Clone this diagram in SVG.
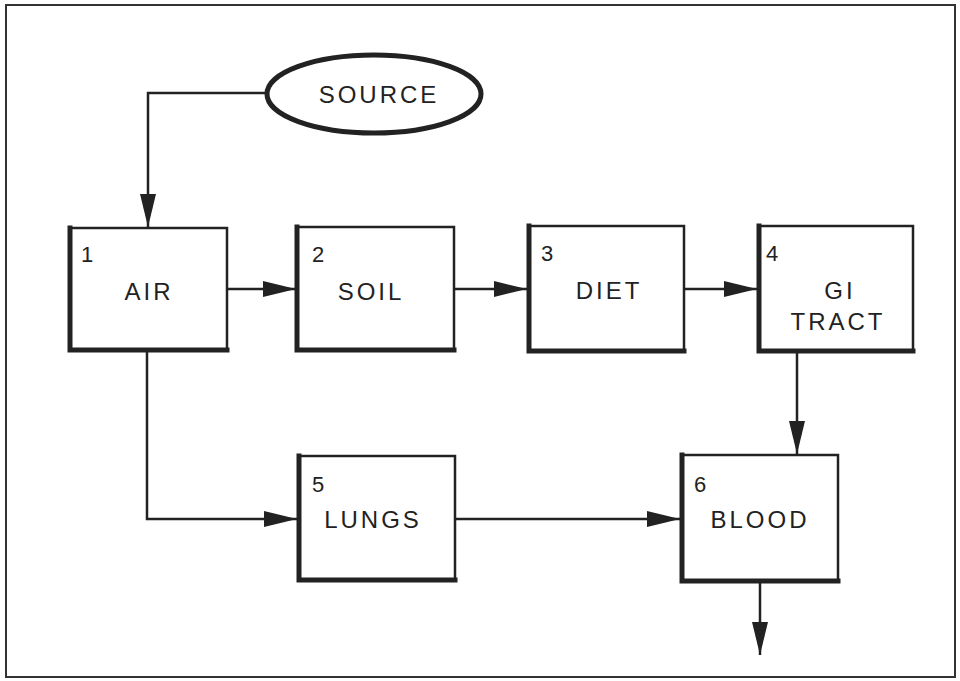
<svg xmlns="http://www.w3.org/2000/svg" width="960" height="681" viewBox="0 0 960 681">
<defs>
<style>
.bx{fill:#fff;stroke:#222;stroke-width:2.5}
.sh{fill:none;stroke:#222;stroke-width:5;stroke-linejoin:miter;stroke-linecap:square}
.cn{fill:none;stroke:#222;stroke-width:2.5}
.lb{font-family:"Liberation Sans",Arial,sans-serif;font-size:24px;fill:#222;letter-spacing:3px;text-anchor:middle}
.nm{font-family:"Liberation Sans",Arial,sans-serif;font-size:22px;fill:#222}
</style>
<marker id="ah" markerUnits="userSpaceOnUse" markerWidth="34" markerHeight="16" refX="33" refY="8" orient="auto" viewBox="0 0 34 16">
<path d="M0,0 L33,8 L0,16 Z" fill="#222"/>
</marker>
</defs>
<rect x="0" y="0" width="960" height="681" fill="#fff"/>
<rect x="6" y="5" width="949" height="672" fill="none" stroke="#333" stroke-width="2"/>

<g id="connectors">
<path class="cn" d="M266,93 H148 V227" marker-end="url(#ah)"/>
<path class="cn" d="M228,289 H296" marker-end="url(#ah)"/>
<path class="cn" d="M455,289 H527" marker-end="url(#ah)"/>
<path class="cn" d="M685,289 H757" marker-end="url(#ah)"/>
<path class="cn" d="M147,352 V519 H297" marker-end="url(#ah)"/>
<path class="cn" d="M456,519 H680" marker-end="url(#ah)"/>
<path class="cn" d="M797,353 V454" marker-end="url(#ah)"/>
<path class="cn" d="M760,583 V655" marker-end="url(#ah)"/>
</g>

<g id="source">
<ellipse cx="374" cy="94" rx="107" ry="39" fill="#fff" stroke="#222" stroke-width="5"/>
<text class="lb" x="379" y="103">SOURCE</text>
</g>

<g id="air">
<rect class="bx" x="70" y="228" width="157" height="122"/>
<path class="sh" d="M70,228 V350 H227"/>
<text class="nm" x="81" y="262">1</text>
<text class="lb" x="149" y="300">AIR</text>
</g>

<g id="soil">
<rect class="bx" x="297" y="227" width="157" height="123"/>
<path class="sh" d="M297,227 V350 H454"/>
<text class="nm" x="312" y="262">2</text>
<text class="lb" x="371" y="300">SOIL</text>
</g>

<g id="diet">
<rect class="bx" x="529" y="226" width="155" height="125"/>
<path class="sh" d="M529,226 V351 H684"/>
<text class="nm" x="541" y="261">3</text>
<text class="lb" x="609" y="299">DIET</text>
</g>

<g id="gitract">
<rect class="bx" x="759" y="226" width="154" height="125"/>
<path class="sh" d="M759,226 V351 H913"/>
<text class="nm" x="766" y="261">4</text>
<text class="lb" x="840" y="299">GI</text>
<text class="lb" x="838" y="330">TRACT</text>
</g>

<g id="lungs">
<rect class="bx" x="299" y="456" width="156" height="124"/>
<path class="sh" d="M299,456 V580 H455"/>
<text class="nm" x="312" y="492">5</text>
<text class="lb" x="373" y="528">LUNGS</text>
</g>

<g id="blood">
<rect class="bx" x="682" y="455" width="156" height="126"/>
<path class="sh" d="M682,455 V581 H838"/>
<text class="nm" x="694" y="492">6</text>
<text class="lb" x="760" y="528">BLOOD</text>
</g>
</svg>
